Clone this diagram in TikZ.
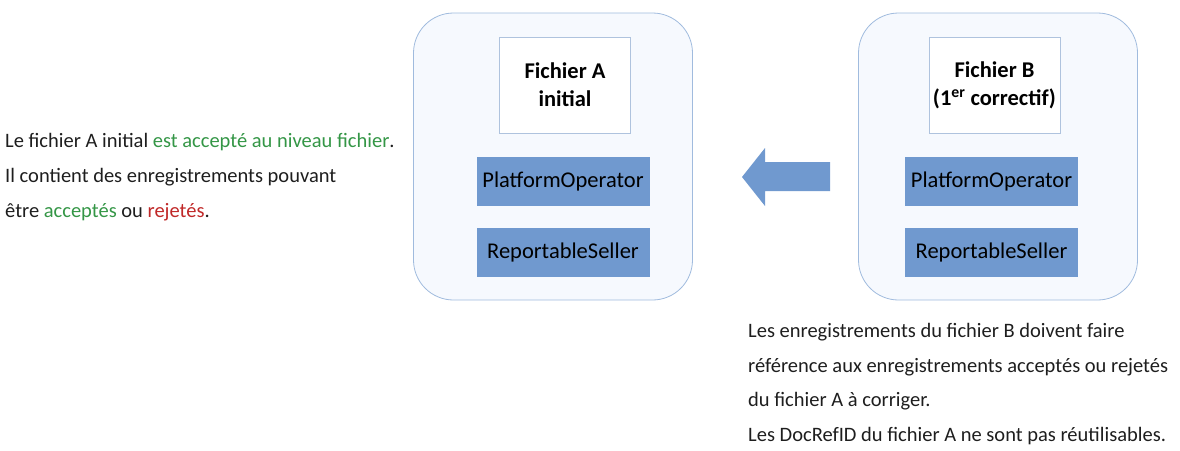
\documentclass[tikz,border=0pt]{standalone}
\usepackage{fontspec}
\setmainfont{Carlito}
\definecolor{outerfill}{RGB}{246,249,254}
\definecolor{outerline}{RGB}{160,187,222}
\definecolor{innerline}{RGB}{175,195,222}
\definecolor{bluebox}{RGB}{112,153,207}
\definecolor{okgreen}{RGB}{52,150,70}
\definecolor{kored}{RGB}{192,40,40}
\definecolor{txt}{RGB}{30,30,30}
\tikzset{
  outerbox/.style={draw=outerline, fill=outerfill, line width=0.8pt, rounded corners=40pt, minimum width=279pt, minimum height=287pt, inner sep=0pt},
  filebox/.style={draw=innerline, fill=white, line width=0.8pt, minimum width=131pt, minimum height=96pt, align=center, font=\fontsize{22.5}{28}\selectfont\bfseries, text=black, inner sep=0pt},
  recbox/.style={fill=bluebox, minimum width=173pt, minimum height=49pt, font=\fontsize{22.5}{26}\selectfont, text=black, inner sep=0pt},
  note/.style={anchor=west, font=\fontsize{20.5}{24}\selectfont, text=txt, inner sep=0pt},
  blockarrow/.style={fill=bluebox, draw=none}
}
\begin{document}
\begin{tikzpicture}[x=1pt,y=-1pt]
\useasboundingbox (0,0) rectangle (1180,450);
% File A
\node[outerbox] (outerA) at (553,156.5) {};
\node[filebox] (fileA) at (565,85) {Fichier A\\initial};
\node[recbox] (poA) at (563,181) {PlatformOperator};
\node[recbox] (rsA) at (563,252.5) {ReportableSeller};
% File B
\node[outerbox] (outerB) at (998,156.5) {};
\node[filebox] (fileB) at (994.5,85) {Fichier B\\(1\textsuperscript{er} correctif)};
\node[recbox] (poB) at (991.5,181) {PlatformOperator};
\node[recbox] (rsB) at (991.5,252.5) {ReportableSeller};
% block arrow
\coordinate (tip) at (742,177);
\path[blockarrow] (tip) -- (765,148) -- (765,162) -- (830,162) -- (830,191) -- (765,191) -- (765,206) -- cycle;
% Left note
\node[note] (l1) at (5,142) {Le fichier A initial \textcolor{okgreen}{est accepté au niveau fichier}.};
\node[note] (l2) at (5,177) {Il contient des enregistrements pouvant};
\node[note] (l3) at (5,212) {être \textcolor{okgreen}{acceptés} ou \textcolor{kored}{rejetés}.};
% Right note
\node[note] (r1) at (748,332) {Les enregistrements du fichier B doivent faire};
\node[note] (r2) at (748,367) {référence aux enregistrements acceptés ou rejetés};
\node[note] (r3) at (748,401) {du fichier A à corriger.};
\node[note] (r4) at (748,436) {Les DocRefID du fichier A ne sont pas réutilisables.};
\end{tikzpicture}
\end{document}
